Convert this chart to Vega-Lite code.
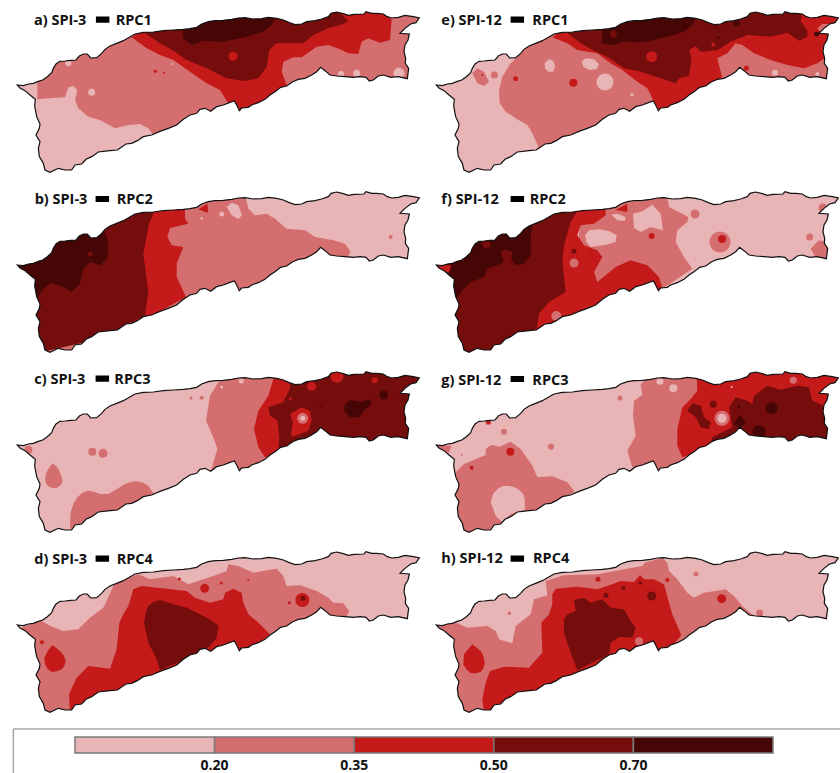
{"$schema":"https://vega.github.io/schema/vega-lite/v6.json","padding":0,"autosize":{"type":"pad"},"background":"white","spacing":0,"config":{"view":{"stroke":null},"concat":{"spacing":0},"facet":{"spacing":0},"header":{"labels":false,"title":null,"labelPadding":0,"titlePadding":0}},
"datasets":{
"coast":[{"type":"Feature","geometry":{"type":"Polygon","coordinates":[[[52,255],[70,257],[85,252],[100,250],[115,244],[128,240],[142,230],[155,218],[160,205],[168,192],[180,184],[195,183],[212,181],[228,180],[238,168],[250,162],[262,162],[272,174],[290,173],[305,160],[315,148],[330,138],[350,130],[370,122],[388,112],[405,102],[430,97],[460,96],[490,92],[520,90],[550,88],[570,86],[590,82],[605,72],[625,65],[645,62],[670,61],[695,58],[715,54],[735,53],[760,57],[785,56],[805,52],[830,55],[850,60],[868,68],[885,74],[905,72],[920,65],[945,62],[965,57],[985,50],[993,40],[1010,36],[1030,41],[1045,46],[1062,43],[1092,42],[1098,35],[1115,40],[1130,40],[1150,42],[1162,50],[1175,54],[1195,52],[1215,46],[1240,50],[1258,54],[1248,68],[1232,72],[1215,85],[1200,100],[1228,102],[1224,120],[1215,135],[1212,155],[1217,175],[1216,190],[1226,205],[1222,236],[1195,230],[1172,232],[1150,225],[1135,228],[1120,240],[1108,243],[1098,232],[1080,230],[1060,232],[1035,230],[1010,228],[990,225],[975,212],[962,202],[950,215],[935,225],[915,235],[895,238],[878,245],[860,258],[842,262],[825,275],[810,285],[795,298],[775,308],[755,315],[745,322],[725,324],[718,332],[710,315],[703,303],[690,307],[670,315],[650,320],[632,334],[615,325],[600,328],[590,340],[570,345],[550,358],[530,375],[505,385],[480,394],[455,405],[430,410],[412,422],[395,430],[378,432],[352,450],[330,452],[295,456],[275,470],[258,478],[245,492],[225,495],[215,510],[195,510],[175,505],[150,517],[135,510],[130,490],[118,470],[115,445],[120,425],[108,405],[118,385],[120,372],[110,350],[104,318],[106,298],[90,285],[75,272],[60,264],[52,255]]]}}],
"mask":[{"type":"Feature","geometry":{"type":"Polygon","coordinates":[[[24,20],[24,530],[1275,530],[1275,20],[24,20]],[[52,255],[70,257],[85,252],[100,250],[115,244],[128,240],[142,230],[155,218],[160,205],[168,192],[180,184],[195,183],[212,181],[228,180],[238,168],[250,162],[262,162],[272,174],[290,173],[305,160],[315,148],[330,138],[350,130],[370,122],[388,112],[405,102],[430,97],[460,96],[490,92],[520,90],[550,88],[570,86],[590,82],[605,72],[625,65],[645,62],[670,61],[695,58],[715,54],[735,53],[760,57],[785,56],[805,52],[830,55],[850,60],[868,68],[885,74],[905,72],[920,65],[945,62],[965,57],[985,50],[993,40],[1010,36],[1030,41],[1045,46],[1062,43],[1092,42],[1098,35],[1115,40],[1130,40],[1150,42],[1162,50],[1175,54],[1195,52],[1215,46],[1240,50],[1258,54],[1248,68],[1232,72],[1215,85],[1200,100],[1228,102],[1224,120],[1215,135],[1212,155],[1217,175],[1216,190],[1226,205],[1222,236],[1195,230],[1172,232],[1150,225],[1135,228],[1120,240],[1108,243],[1098,232],[1080,230],[1060,232],[1035,230],[1010,228],[990,225],[975,212],[962,202],[950,215],[935,225],[915,235],[895,238],[878,245],[860,258],[842,262],[825,275],[810,285],[795,298],[775,308],[755,315],[745,322],[725,324],[718,332],[710,315],[703,303],[690,307],[670,315],[650,320],[632,334],[615,325],[600,328],[590,340],[570,345],[550,358],[530,375],[505,385],[480,394],[455,405],[430,410],[412,422],[395,430],[378,432],[352,450],[330,452],[295,456],[275,470],[258,478],[245,492],[225,495],[215,510],[195,510],[175,505],[150,517],[135,510],[130,490],[118,470],[115,445],[120,425],[108,405],[118,385],[120,372],[110,350],[104,318],[106,298],[90,285],[75,272],[60,264],[52,255]]]}}],
"rows":[
{"kind":"p","panel":"a","c":"c2","type":"Feature","geometry":{"type":"Polygon","coordinates":[[[30,26],[1270,26],[1270,524],[30,524],[30,26]]]}},
{"kind":"p","panel":"a","c":"c1","type":"Feature","geometry":{"type":"Polygon","coordinates":[[[40,250],[112,245],[112,298],[150,295],[195,292],[205,262],[220,258],[232,270],[225,300],[235,325],[265,350],[300,360],[345,385],[385,375],[420,372],[445,385],[460,405],[400,450],[250,500],[130,522],[90,400],[80,300],[40,250]]]}},
{"kind":"p","panel":"a","c":"c3","type":"Feature","geometry":{"type":"Polygon","coordinates":[[[395,112],[440,145],[480,165],[520,180],[570,215],[620,250],[660,270],[682,305],[720,340],[800,300],[860,255],[845,215],[850,185],[880,172],[905,172],[950,140],[985,135],[1025,150],[1045,160],[1075,162],[1085,125],[1105,115],[1140,128],[1170,120],[1175,60],[1150,30],[1000,28],[700,40],[430,90],[395,112]]]}},
{"kind":"p","panel":"a","c":"c4","type":"Feature","geometry":{"type":"Polygon","coordinates":[[[430,95],[480,130],[520,152],[560,180],[620,205],[680,235],[730,243],[775,235],[800,200],[808,150],[830,130],[880,130],[910,130],[940,105],[985,85],[1030,72],[1045,62],[1010,30],[940,50],[880,60],[700,40],[560,75],[430,95]]]}},
{"kind":"p","panel":"a","c":"c5","type":"Feature","geometry":{"type":"Polygon","coordinates":[[[548,90],[550,115],[575,135],[610,122],[670,125],[740,110],[790,95],[815,75],[825,58],[760,40],[700,45],[600,65],[548,90]]]}},
{"kind":"s","panel":"a","c":"c3","lon":699,"lat":169,"size":86},{"kind":"s","panel":"a","c":"c3","lon":466,"lat":214,"size":11},{"kind":"s","panel":"a","c":"c3","lon":492,"lat":218,"size":4},{"kind":"s","panel":"a","c":"c1","lon":517,"lat":192,"size":4},{"kind":"s","panel":"a","c":"c1","lon":205,"lat":190,"size":36},{"kind":"s","panel":"a","c":"c1","lon":275,"lat":277,"size":49},{"kind":"s","panel":"a","c":"c1","lon":1023,"lat":222,"size":36},{"kind":"s","panel":"a","c":"c1","lon":1070,"lat":220,"size":49},{"kind":"s","panel":"a","c":"c1","lon":1197,"lat":220,"size":120},

{"kind":"p","panel":"e","c":"c2","type":"Feature","geometry":{"type":"Polygon","coordinates":[[[30,26],[1270,26],[1270,524],[30,524],[30,26]]]}},
{"kind":"p","panel":"e","c":"c1","type":"Feature","geometry":{"type":"Polygon","coordinates":[[[288,178],[275,190],[250,230],[240,270],[242,310],[260,335],[295,358],[325,375],[340,400],[358,440],[305,510],[100,522],[32,400],[32,200],[150,150],[288,150],[288,178]]]}},
{"kind":"p","panel":"e","c":"c2","type":"Feature","geometry":{"type":"Polygon","coordinates":[[[160,220],[175,205],[195,215],[210,245],[195,258],[175,250],[160,220]]]}},
{"kind":"p","panel":"e","c":"c1","type":"Feature","geometry":{"type":"Polygon","coordinates":[[[377,190],[390,177],[403,183],[409,200],[402,215],[388,215],[378,205],[377,190]]]}},
{"kind":"p","panel":"e","c":"c1","type":"Feature","geometry":{"type":"Polygon","coordinates":[[[488,185],[500,175],[525,178],[540,192],[533,208],[510,210],[493,200],[488,185]]]}},
{"kind":"p","panel":"e","c":"c3","type":"Feature","geometry":{"type":"Polygon","coordinates":[[[400,112],[445,130],[475,150],[535,160],[575,190],[610,210],[655,245],[685,265],[700,295],[723,335],[805,295],[910,235],[895,175],[925,160],[950,130],[970,135],[1005,160],[1055,180],[1105,195],[1155,205],[1195,190],[1217,175],[1245,100],[1268,50],[1100,30],[705,40],[435,85],[400,112]]]}},
{"kind":"p","panel":"e","c":"c2","type":"Feature","geometry":{"type":"Polygon","coordinates":[[[1195,85],[1210,72],[1230,72],[1230,90],[1205,97],[1195,85]]]}},
{"kind":"p","panel":"e","c":"c4","type":"Feature","geometry":{"type":"Polygon","coordinates":[[[440,95],[485,130],[525,152],[565,170],[615,205],[665,215],[725,235],[770,250],[780,235],[810,228],[817,180],[811,150],[830,138],[845,155],[895,150],[935,125],[985,105],[1055,110],[1105,98],[1140,122],[1165,110],[1165,90],[1145,65],[1150,30],[1085,28],[1005,28],[905,60],[825,45],[705,45],[565,75],[440,95]]]}},
{"kind":"p","panel":"e","c":"c5","type":"Feature","geometry":{"type":"Polygon","coordinates":[[[550,90],[548,130],[580,135],[615,125],[675,127],[745,110],[795,95],[820,75],[830,55],[765,40],[695,45],[605,65],[550,90]]]}},
{"kind":"s","panel":"e","c":"c2","lon":226,"lat":225,"size":49},{"kind":"s","panel":"e","c":"c3","lon":190,"lat":225,"size":4},{"kind":"s","panel":"e","c":"c1","lon":230,"lat":196,"size":3},{"kind":"s","panel":"e","c":"c1","lon":558,"lat":246,"size":289},{"kind":"s","panel":"e","c":"c3","lon":290,"lat":236,"size":25},{"kind":"s","panel":"e","c":"c3","lon":463,"lat":248,"size":64},{"kind":"s","panel":"e","c":"c1","lon":639,"lat":284,"size":12},{"kind":"s","panel":"e","c":"c4","lon":583,"lat":102,"size":49},{"kind":"s","panel":"e","c":"c3","lon":698,"lat":170,"size":121},{"kind":"s","panel":"e","c":"c3","lon":883,"lat":134,"size":16},{"kind":"s","panel":"e","c":"c5","lon":897,"lat":113,"size":6},{"kind":"s","panel":"e","c":"c5","lon":953,"lat":70,"size":36},{"kind":"s","panel":"e","c":"c5","lon":1193,"lat":102,"size":25},{"kind":"s","panel":"e","c":"c3","lon":982,"lat":205,"size":25},{"kind":"s","panel":"e","c":"c1","lon":1068,"lat":218,"size":36},{"kind":"s","panel":"e","c":"c1","lon":1195,"lat":222,"size":16},

{"kind":"p","panel":"b","c":"c2","type":"Feature","geometry":{"type":"Polygon","coordinates":[[[30,26],[1270,26],[1270,524],[30,524],[30,26]]]}},
{"kind":"p","panel":"b","c":"c1","type":"Feature","geometry":{"type":"Polygon","coordinates":[[[738,56],[745,86],[765,106],[800,101],[825,116],[860,146],[915,151],[945,171],[1000,181],[1035,191],[1052,216],[1045,226],[1100,256],[1268,256],[1268,28],[738,28],[738,56]]]}},
{"kind":"p","panel":"b","c":"c1","type":"Feature","geometry":{"type":"Polygon","coordinates":[[[680,81],[695,68],[715,76],[726,106],[715,117],[695,106],[680,81]]]}},
{"kind":"p","panel":"b","c":"c3","type":"Feature","geometry":{"type":"Polygon","coordinates":[[[555,84],[555,116],[565,131],[510,144],[502,171],[515,196],[550,201],[530,251],[530,291],[558,351],[440,416],[32,520],[32,30],[555,30],[555,84]]]}},
{"kind":"p","panel":"b","c":"c3","type":"Feature","geometry":{"type":"Polygon","coordinates":[[[595,88],[622,71],[625,98],[610,94],[595,88]]]}},
{"kind":"p","panel":"b","c":"c4","type":"Feature","geometry":{"type":"Polygon","coordinates":[[[462,96],[447,131],[430,221],[445,336],[435,406],[300,476],[100,522],[34,416],[34,166],[300,66],[462,66],[462,96]]]}},
{"kind":"p","panel":"b","c":"c5","type":"Feature","geometry":{"type":"Polygon","coordinates":[[[320,171],[325,196],[322,236],[300,256],[270,246],[250,266],[240,311],[215,336],[190,321],[155,308],[130,326],[110,356],[36,346],[36,166],[200,136],[310,146],[320,171]]]}},
{"kind":"s","panel":"b","c":"c1","lon":665,"lat":102,"size":25},{"kind":"s","panel":"b","c":"c1","lon":605,"lat":115,"size":6},{"kind":"s","panel":"b","c":"c2","lon":1172,"lat":171,"size":16},{"kind":"s","panel":"b","c":"c4","lon":271,"lat":222,"size":25},

{"kind":"p","panel":"f","c":"c1","type":"Feature","geometry":{"type":"Polygon","coordinates":[[[30,26],[1270,26],[1270,524],[30,524],[30,26]]]}},
{"kind":"p","panel":"f","c":"c2","type":"Feature","geometry":{"type":"Polygon","coordinates":[[[560,76],[745,51],[750,81],[790,101],[808,111],[805,126],[775,151],[770,186],[795,231],[820,266],[730,326],[605,316],[505,356],[475,216],[485,116],[560,76]]]}},
{"kind":"p","panel":"f","c":"c1","type":"Feature","geometry":{"type":"Polygon","coordinates":[[[498,166],[510,151],[540,148],[570,153],[593,166],[590,186],[560,194],[515,201],[502,186],[498,166]]]}},
{"kind":"p","panel":"f","c":"c1","type":"Feature","geometry":{"type":"Polygon","coordinates":[[[642,101],[670,94],[700,74],[725,101],[732,151],[695,141],[665,156],[645,144],[642,101]]]}},
{"kind":"p","panel":"f","c":"c1","type":"Feature","geometry":{"type":"Polygon","coordinates":[[[577,104],[595,101],[620,111],[617,123],[595,121],[577,104]]]}},
{"kind":"p","panel":"f","c":"c2","type":"Feature","geometry":{"type":"Polygon","coordinates":[[[700,66],[725,50],[745,51],[745,75],[725,88],[700,66]]]}},
{"kind":"p","panel":"f","c":"c3","type":"Feature","geometry":{"type":"Polygon","coordinates":[[[560,84],[560,106],[525,131],[485,136],[475,166],[495,196],[535,211],[550,231],[525,276],[535,306],[590,261],[635,241],[685,256],[720,291],[730,326],[605,366],[355,466],[305,416],[32,316],[32,36],[560,36],[560,84]]]}},
{"kind":"p","panel":"f","c":"c3","type":"Feature","geometry":{"type":"Polygon","coordinates":[[[590,90],[625,71],[625,96],[590,90]]]}},
{"kind":"p","panel":"f","c":"c4","type":"Feature","geometry":{"type":"Polygon","coordinates":[[[473,96],[455,126],[435,196],[430,246],[440,336],[390,366],[360,401],[353,446],[205,522],[35,522],[35,256],[105,116],[473,76],[473,96]]]}},
{"kind":"p","panel":"f","c":"c5","type":"Feature","geometry":{"type":"Polygon","coordinates":[[[340,136],[335,176],[335,226],[315,251],[290,256],[277,241],[280,216],[260,208],[245,216],[255,246],[235,256],[205,266],[195,291],[155,306],[130,331],[115,354],[37,336],[37,216],[205,116],[340,116],[340,136]]]}},
{"kind":"p","panel":"f","c":"c3","type":"Feature","geometry":{"type":"Polygon","coordinates":[[[45,254],[97,256],[90,278],[45,266],[45,254]]]}},
{"kind":"p","panel":"f","c":"c2","type":"Feature","geometry":{"type":"Polygon","coordinates":[[[1175,206],[1200,181],[1220,186],[1235,246],[1195,241],[1175,206]]]}},
{"kind":"s","panel":"f","c":"c4","lon":202,"lat":193,"size":64},{"kind":"s","panel":"f","c":"c2","lon":412,"lat":408,"size":100},{"kind":"s","panel":"f","c":"c2","lon":465,"lat":249,"size":81},{"kind":"s","panel":"f","c":"c4","lon":465,"lat":214,"size":25},{"kind":"s","panel":"f","c":"c4","lon":517,"lat":220,"size":2},{"kind":"s","panel":"f","c":"c3","lon":698,"lat":168,"size":36},{"kind":"s","panel":"f","c":"c2","lon":828,"lat":102,"size":81},{"kind":"s","panel":"f","c":"c2","lon":903,"lat":186,"size":441},{"kind":"s","panel":"f","c":"c3","lon":909,"lat":177,"size":64},{"kind":"s","panel":"f","c":"c2","lon":1172,"lat":171,"size":49},{"kind":"s","panel":"f","c":"c2","lon":1212,"lat":84,"size":81},

{"kind":"p","panel":"c","c":"c1","type":"Feature","geometry":{"type":"Polygon","coordinates":[[[30,26],[1270,26],[1270,524],[30,524],[30,26]]]}},
{"kind":"p","panel":"c","c":"c2","type":"Feature","geometry":{"type":"Polygon","coordinates":[[[655,67],[630,107],[618,182],[640,232],[652,267],[632,337],[730,347],[830,297],[830,32],[700,37],[655,67]]]}},
{"kind":"p","panel":"c","c":"c3","type":"Feature","geometry":{"type":"Polygon","coordinates":[[[820,57],[805,107],[775,152],[762,207],[775,262],[795,292],[900,257],[880,40],[840,40],[820,57]]]}},
{"kind":"p","panel":"c","c":"c4","type":"Feature","geometry":{"type":"Polygon","coordinates":[[[870,60],[870,85],[850,127],[805,142],[810,167],[833,182],[838,237],[835,262],[900,257],[960,217],[1100,262],[1268,257],[1268,30],[1000,30],[870,60]]]}},
{"kind":"p","panel":"c","c":"c5","type":"Feature","geometry":{"type":"Polygon","coordinates":[[[1035,132],[1050,120],[1085,125],[1110,117],[1113,135],[1090,152],[1080,172],[1050,172],[1032,152],[1035,132]]]}},
{"kind":"p","panel":"c","c":"c3","type":"Feature","geometry":{"type":"Polygon","coordinates":[[[870,162],[905,142],[930,152],[935,182],[925,212],[880,230],[873,227],[878,187],[870,162]]]}},
{"kind":"p","panel":"c","c":"c2","type":"Feature","geometry":{"type":"Polygon","coordinates":[[[157,310],[168,318],[175,327],[183,345],[188,362],[182,376],[170,384],[157,384],[145,379],[137,368],[135,357],[138,340],[145,327],[157,310]]]}},
{"kind":"p","panel":"c","c":"c2","type":"Feature","geometry":{"type":"Polygon","coordinates":[[[210,497],[212,457],[220,432],[232,412],[248,398],[265,392],[282,395],[300,402],[325,402],[350,388],[375,372],[392,366],[410,364],[430,368],[445,377],[462,402],[300,487],[215,522],[210,497]]]}},
{"kind":"s","panel":"c","c":"c2","lon":908,"lat":175,"size":121},{"kind":"s","panel":"c","c":"c1","lon":908,"lat":175,"size":25},{"kind":"s","panel":"c","c":"c5","lon":1151,"lat":105,"size":81},{"kind":"s","panel":"c","c":"c5","lon":961,"lat":141,"size":4},{"kind":"s","panel":"c","c":"c3","lon":1011,"lat":49,"size":169},{"kind":"s","panel":"c","c":"c3","lon":935,"lat":79,"size":81},{"kind":"s","panel":"c","c":"c3","lon":1124,"lat":61,"size":36},{"kind":"s","panel":"c","c":"c3","lon":871,"lat":116,"size":9},{"kind":"s","panel":"c","c":"c1","lon":724,"lat":63,"size":25},{"kind":"s","panel":"c","c":"c1","lon":665,"lat":81,"size":9},{"kind":"s","panel":"c","c":"c2","lon":277,"lat":275,"size":64},{"kind":"s","panel":"c","c":"c2","lon":309,"lat":280,"size":81},{"kind":"s","panel":"c","c":"c2","lon":85,"lat":269,"size":64},{"kind":"s","panel":"c","c":"c2","lon":573,"lat":114,"size":9},{"kind":"s","panel":"c","c":"c2","lon":605,"lat":113,"size":16},

{"kind":"p","panel":"g","c":"c1","type":"Feature","geometry":{"type":"Polygon","coordinates":[[[30,26],[1270,26],[1270,524],[30,524],[30,26]]]}},
{"kind":"p","panel":"g","c":"c2","type":"Feature","geometry":{"type":"Polygon","coordinates":[[[665,72],[670,105],[645,122],[642,167],[650,227],[625,272],[640,322],[725,347],[805,297],[845,77],[830,42],[705,37],[665,72]]]}},
{"kind":"p","panel":"g","c":"c3","type":"Feature","geometry":{"type":"Polygon","coordinates":[[[833,45],[835,92],[815,117],[790,142],[775,207],[775,257],[790,292],[905,257],[965,217],[1105,262],[1268,257],[1268,37],[1005,28],[885,50],[833,45]]]}},
{"kind":"p","panel":"g","c":"c4","type":"Feature","geometry":{"type":"Polygon","coordinates":[[[1005,107],[1045,77],[1085,89],[1135,77],[1170,82],[1180,122],[1210,135],[1225,197],[1230,257],[1105,262],[965,217],[905,242],[875,247],[880,232],[940,202],[930,142],[950,112],[985,122],[1000,132],[1005,107]]]}},
{"kind":"p","panel":"g","c":"c4","type":"Feature","geometry":{"type":"Polygon","coordinates":[[[805,152],[820,130],[845,137],[855,172],[875,187],[870,207],[845,202],[830,172],[805,152]]]}},
{"kind":"p","panel":"g","c":"c5","type":"Feature","geometry":{"type":"Polygon","coordinates":[[[945,192],[963,164],[980,187],[963,207],[945,192]]]}},
{"kind":"p","panel":"g","c":"c2","type":"Feature","geometry":{"type":"Polygon","coordinates":[[[50,255],[97,257],[90,279],[65,272],[50,255]]]}},
{"kind":"p","panel":"g","c":"c2","type":"Feature","geometry":{"type":"Polygon","coordinates":[[[110,337],[135,312],[200,285],[200,267],[217,254],[242,260],[275,245],[305,267],[340,317],[355,352],[400,349],[445,367],[467,395],[305,487],[225,522],[105,522],[35,417],[110,337]]]}},
{"kind":"p","panel":"g","c":"c1","type":"Feature","geometry":{"type":"Polygon","coordinates":[[[215,427],[222,403],[235,387],[250,379],[265,377],[285,381],[300,389],[312,402],[317,417],[318,449],[275,462],[250,487],[230,467],[215,427]]]}},
{"kind":"s","panel":"g","c":"c1","lon":723,"lat":64,"size":49},{"kind":"s","panel":"g","c":"c1","lon":763,"lat":85,"size":64},{"kind":"s","panel":"g","c":"c2","lon":603,"lat":114,"size":25},{"kind":"s","panel":"g","c":"c4","lon":883,"lat":133,"size":49},{"kind":"s","panel":"g","c":"c2","lon":909,"lat":175,"size":225},{"kind":"s","panel":"g","c":"c1","lon":909,"lat":175,"size":81},{"kind":"s","panel":"g","c":"c5","lon":1058,"lat":145,"size":144},{"kind":"s","panel":"g","c":"c5","lon":960,"lat":141,"size":9},{"kind":"s","panel":"g","c":"c5","lon":1020,"lat":215,"size":169},{"kind":"s","panel":"g","c":"c1","lon":938,"lat":81,"size":4},{"kind":"s","panel":"g","c":"c2","lon":1123,"lat":61,"size":49},{"kind":"s","panel":"g","c":"c3","lon":274,"lat":275,"size":64},{"kind":"s","panel":"g","c":"c3","lon":158,"lat":323,"size":16},{"kind":"s","panel":"g","c":"c2","lon":128,"lat":284,"size":4},{"kind":"s","panel":"g","c":"c2","lon":255,"lat":215,"size":36},{"kind":"s","panel":"g","c":"c2","lon":396,"lat":260,"size":36},{"kind":"s","panel":"g","c":"c2","lon":208,"lat":187,"size":36},{"kind":"s","panel":"g","c":"c3","lon":208,"lat":187,"size":16},

{"kind":"p","panel":"d","c":"c1","type":"Feature","geometry":{"type":"Polygon","coordinates":[[[30,26],[1270,26],[1270,524],[30,524],[30,26]]]}},
{"kind":"p","panel":"d","c":"c2","type":"Feature","geometry":{"type":"Polygon","coordinates":[[[75,258],[125,243],[150,258],[190,273],[235,268],[270,233],[310,203],[340,138],[345,128],[415,103],[450,118],[520,108],[565,133],[640,108],[680,93],[685,73],[715,78],[760,98],[830,86],[850,108],[860,138],[900,136],[950,153],[985,173],[1000,188],[1030,190],[1048,213],[1040,228],[1100,268],[900,368],[500,498],[130,522],[34,418],[34,278],[75,258]]]}},
{"kind":"p","panel":"d","c":"c3","type":"Feature","geometry":{"type":"Polygon","coordinates":[[[385,198],[400,148],[425,138],[500,146],[560,153],[585,173],[630,188],[670,178],[675,158],[700,146],[725,158],[730,188],[745,223],[770,243],[810,283],[720,358],[500,418],[300,488],[210,518],[207,463],[230,413],[265,378],[330,386],[350,328],[358,248],[370,223],[385,198]]]}},
{"kind":"p","panel":"d","c":"c4","type":"Feature","geometry":{"type":"Polygon","coordinates":[[[432,248],[437,220],[445,198],[460,186],[480,180],[520,193],[560,203],[610,228],[640,245],[655,258],[650,293],[630,318],[600,338],[480,390],[470,358],[445,308],[432,248]]]}},
{"kind":"p","panel":"d","c":"c3","type":"Feature","geometry":{"type":"Polygon","coordinates":[[[157,315],[180,333],[192,348],[197,363],[193,378],[185,388],[170,394],[155,396],[143,387],[135,373],[133,353],[145,330],[157,315]]]}},
{"kind":"s","panel":"d","c":"c3","lon":126,"lat":307,"size":16},{"kind":"s","panel":"d","c":"c3","lon":614,"lat":145,"size":81},{"kind":"s","panel":"d","c":"c3","lon":538,"lat":117,"size":9},{"kind":"s","panel":"d","c":"c3","lon":664,"lat":129,"size":9},{"kind":"s","panel":"d","c":"c3","lon":745,"lat":119,"size":4},{"kind":"s","panel":"d","c":"c3","lon":868,"lat":188,"size":9},{"kind":"s","panel":"d","c":"c3","lon":907,"lat":180,"size":196},{"kind":"s","panel":"d","c":"c4","lon":909,"lat":175,"size":25},

{"kind":"p","panel":"h","c":"c1","type":"Feature","geometry":{"type":"Polygon","coordinates":[[[30,26],[1270,26],[1270,524],[30,524],[30,26]]]}},
{"kind":"p","panel":"h","c":"c2","type":"Feature","geometry":{"type":"Polygon","coordinates":[[[40,250],[115,250],[145,263],[205,258],[230,273],[240,298],[280,310],[290,258],[335,223],[345,178],[385,166],[380,123],[435,106],[535,103],[615,88],[670,78],[677,68],[730,53],[745,68],[750,93],[775,118],[805,158],[825,173],[855,158],[920,148],[945,168],[970,198],[1005,228],[965,248],[905,338],[505,498],[135,522],[35,438],[35,268],[40,250]]]}},
{"kind":"p","panel":"h","c":"c3","type":"Feature","geometry":{"type":"Polygon","coordinates":[[[400,163],[410,146],[475,140],[535,148],[580,133],[605,123],[645,126],[663,105],[675,118],[705,118],[735,133],[750,188],[760,223],[787,286],[725,358],[505,418],[305,488],[195,518],[190,478],[200,428],[213,393],[255,380],[330,383],[370,338],[367,248],[390,223],[400,193],[400,163]]]}},
{"kind":"p","panel":"h","c":"c4","type":"Feature","geometry":{"type":"Polygon","coordinates":[[[435,238],[445,223],[470,213],[465,180],[495,173],[515,188],[550,178],[575,203],[615,208],[635,243],[650,263],[640,293],[600,290],[575,308],[570,343],[475,390],[455,338],[435,278],[435,238]]]}},
{"kind":"p","panel":"h","c":"c3","type":"Feature","geometry":{"type":"Polygon","coordinates":[[[160,313],[185,333],[194,350],[197,368],[193,385],[185,396],[170,400],[155,400],[142,388],[133,373],[135,343],[160,313]]]}},
{"kind":"s","panel":"h","c":"c2","lon":660,"lat":304,"size":64},{"kind":"s","panel":"h","c":"c4","lon":561,"lat":166,"size":25},{"kind":"s","panel":"h","c":"c4","lon":613,"lat":143,"size":16},{"kind":"s","panel":"h","c":"c4","lon":664,"lat":129,"size":12},{"kind":"s","panel":"h","c":"c4","lon":698,"lat":168,"size":81},{"kind":"s","panel":"h","c":"c3","lon":537,"lat":118,"size":25},{"kind":"s","panel":"h","c":"c3","lon":745,"lat":120,"size":16},{"kind":"s","panel":"h","c":"c3","lon":908,"lat":176,"size":81},{"kind":"s","panel":"h","c":"c2","lon":831,"lat":102,"size":25},{"kind":"s","panel":"h","c":"c2","lon":271,"lat":220,"size":12},{"kind":"s","panel":"h","c":"c2","lon":1022,"lat":219,"size":49},

{"kind":"t","panel":"a","lon":102,"lat":62,"t":"a) SPI-3"},{"kind":"t","panel":"a","lon":347,"lat":62,"t":"RPC1"},{"kind":"d","panel":"a","lon":308,"lat":59},
{"kind":"t","panel":"b","lon":104,"lat":59,"t":"b) SPI-3"},{"kind":"t","panel":"b","lon":350,"lat":59,"t":"RPC2"},{"kind":"d","panel":"b","lon":307,"lat":57},
{"kind":"t","panel":"c","lon":103,"lat":59,"t":"c) SPI-3"},{"kind":"t","panel":"c","lon":343,"lat":59,"t":"RPC3"},{"kind":"d","panel":"c","lon":307,"lat":56},
{"kind":"t","panel":"d","lon":103,"lat":60,"t":"d) SPI-3"},{"kind":"t","panel":"d","lon":350,"lat":60,"t":"RPC4"},{"kind":"d","panel":"d","lon":307,"lat":56},
{"kind":"t","panel":"e","lon":67,"lat":62,"t":"e) SPI-12"},{"kind":"t","panel":"e","lon":340,"lat":62,"t":"RPC1"},{"kind":"d","panel":"e","lon":295,"lat":59},
{"kind":"t","panel":"f","lon":67,"lat":61,"t":"f) SPI-12"},{"kind":"t","panel":"f","lon":332,"lat":61,"t":"RPC2"},{"kind":"d","panel":"f","lon":295,"lat":57},
{"kind":"t","panel":"g","lon":67,"lat":62,"t":"g) SPI-12"},{"kind":"t","panel":"g","lon":340,"lat":62,"t":"RPC3"},{"kind":"d","panel":"g","lon":295,"lat":57},
{"kind":"t","panel":"h","lon":67,"lat":58,"t":"h) SPI-12"},{"kind":"t","panel":"h","lon":342,"lat":58,"t":"RPC4"},{"kind":"d","panel":"h","lon":295,"lat":56}
]},
"vconcat":[
{"data":{"name":"rows"},"transform":[{"calculate":"indexof('abcd',datum.panel)>=0?0:1","as":"col"},{"calculate":"max(indexof('abcd',datum.panel),indexof('efgh',datum.panel))","as":"row"}],"bounds":"flush","spacing":{"row":0,"column":0},"facet":{"row":{"field":"row","type":"ordinal","header":{"labels":false,"title":null,"labelPadding":0,"titlePadding":0}},"column":{"field":"col","type":"ordinal","header":{"labels":false,"title":null,"labelPadding":0,"titlePadding":0}}},
"spec":{"width":418.33,"height":179.67,"projection":{"type":"identity","scale":0.33333,"translate":[0,0]},
"layer":[
{"transform":[{"filter":"datum.kind==='p'"}],"mark":{"type":"geoshape","stroke":null,"clip":false},"encoding":{"fill":{"field":"c","type":"nominal","legend":null,"scale":{"domain":["c1","c2","c3","c4","c5"],"range":["#E8B4B6","#D56E6E","#C41A1A","#750D0D","#470606"]}}}},
{"transform":[{"filter":"datum.kind==='s'"}],"mark":{"type":"circle","opacity":1,"clip":false},"encoding":{"longitude":{"field":"lon","type":"quantitative"},"latitude":{"field":"lat","type":"quantitative"},"size":{"field":"size","type":"quantitative","scale":null,"legend":null},"fill":{"field":"c","type":"nominal","legend":null,"scale":{"domain":["c1","c2","c3","c4","c5"],"range":["#E8B4B6","#D56E6E","#C41A1A","#750D0D","#470606"]}}}},
{"data":{"name":"mask"},"mark":{"type":"geoshape","fill":"white","stroke":null,"clip":false}},
{"data":{"name":"coast"},"mark":{"type":"geoshape","filled":false,"stroke":"#111111","strokeWidth":1.2,"clip":false}},
{"transform":[{"filter":"datum.kind==='t'"}],"mark":{"type":"text","align":"left","baseline":"middle","font":"Open Sans","fontWeight":"bold","fontSize":14.5,"color":"#111111"},"encoding":{"longitude":{"field":"lon","type":"quantitative"},"latitude":{"field":"lat","type":"quantitative"},"text":{"field":"t","type":"nominal"}}},
{"transform":[{"filter":"datum.kind==='d'"}],"mark":{"type":"point","shape":"M-1,-0.46H1V0.46H-1Z","filled":true,"fill":"#000000","stroke":null,"size":182,"opacity":1},"encoding":{"longitude":{"field":"lon","type":"quantitative"},"latitude":{"field":"lat","type":"quantitative"}}}
]}},
{"width":840,"height":54.3,"layer":[
{"data":{"values":[{"a":-0.441,"b":5.48}]},"mark":{"type":"rule","stroke":"#A6A6A6","strokeWidth":1.5},"encoding":{"x":{"field":"a","type":"quantitative","axis":null,"scale":{"domain":[-0.537,5.48],"nice":false,"zero":false}},"x2":{"field":"b"},"y":{"datum":0.834,"type":"quantitative","axis":null,"scale":{"domain":[0,1],"nice":false,"zero":false}}}},
{"data":{"values":[{"a":-0.441}]},"mark":{"type":"rule","stroke":"#A6A6A6","strokeWidth":1.5},"encoding":{"x":{"field":"a","type":"quantitative"},"y":{"datum":0.834,"type":"quantitative"},"y2":{"datum":0}}},
{"data":{"values":[{"c":"c1","lo":0,"hi":1},{"c":"c2","lo":1,"hi":2},{"c":"c3","lo":2,"hi":3},{"c":"c4","lo":3,"hi":4},{"c":"c5","lo":4,"hi":5}]},"mark":{"type":"rect","stroke":"#7A7A7A","strokeWidth":1.5},"encoding":{"x":{"field":"lo","type":"quantitative"},"x2":{"field":"hi"},"y":{"datum":0.687,"type":"quantitative"},"y2":{"datum":0.392},"fill":{"field":"c","type":"nominal","legend":null,"scale":{"domain":["c1","c2","c3","c4","c5"],"range":["#E8B4B6","#D56E6E","#C41A1A","#750D0D","#470606"]}}}},
{"data":{"values":[{"at":1,"label":"0.20"},{"at":2,"label":"0.35"},{"at":3,"label":"0.50"},{"at":4,"label":"0.70"}]},"mark":{"type":"text","font":"Open Sans","fontWeight":"bold","fontSize":14,"color":"#111111","baseline":"middle"},"encoding":{"x":{"field":"at","type":"quantitative"},"y":{"datum":0.147,"type":"quantitative"},"text":{"field":"label","type":"nominal"}}}
]}
]}
